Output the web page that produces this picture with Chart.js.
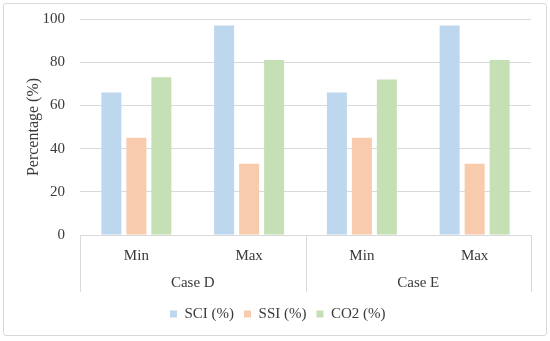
<!DOCTYPE html>
<html><head><meta charset="utf-8">
<script src="https://cdn.jsdelivr.net/npm/chart.js@4.4.1/dist/chart.umd.min.js"></script>
<style>
html,body{margin:0;padding:0;background:#fff;}
#wrap{position:relative;width:550px;height:341px;}
#frame{position:absolute;left:3px;top:3px;width:542px;height:331px;border:1px solid #d9d9d9;border-radius:3px;pointer-events:none;}
canvas{position:absolute;left:0;top:0;}
</style></head><body>
<div id="wrap"><canvas id="c" width="550" height="341"></canvas><div id="frame"></div></div>
<script>
const categories = ['Min', 'Max', 'Min', 'Max'];
const groups = ['Case D', 'Case E'];
const groupSizes = [2, 2];
const seriesNames = ['SCI (%)', 'SSI (%)', 'CO2 (%)'];
const sci = [66, 97, 66, 97];
const ssi = [45, 33, 45, 33];
const co2 = [73, 81, 72, 81];
const yTicks = [0, 20, 40, 60, 80, 100];
const colors = ['#bdd7ee', '#f8cbad', '#c5e0b4'];

const FONT = "'Liberation Serif', 'Times New Roman', serif";
const TEXT = '#3a3a3a';
const GRID = '#d9d9d9';

const groupPlugin = {
  id: 'groupAxis',
  afterLayout(chart) {
    const lg = chart.legend;
    if (lg) { lg.left += 12; lg.right += 12.5; lg.top += 1.5; lg.bottom += 1.5; }
  },
  afterDraw(chart) {
    const ctx = chart.ctx;
    const x = chart.scales.x;
    const area = chart.chartArea;
    const w = x.width / categories.length;
    ctx.save();
    ctx.strokeStyle = GRID;
    ctx.lineWidth = 1;
    ctx.fillStyle = TEXT;
    ctx.font = '15px ' + FONT;
    ctx.textAlign = 'center';
    ctx.textBaseline = 'middle';
    let idx = 0;
    const lineBottom = area.bottom + 57;
    groups.forEach((g, i) => {
      const left = x.getPixelForValue(idx) - w / 2;
      const right = x.getPixelForValue(idx + groupSizes[i] - 1) + w / 2;
      [left, right].forEach(px => {
        const p = Math.round(px) + 0.5;
        ctx.beginPath();
        ctx.moveTo(p, area.bottom);
        ctx.lineTo(p, lineBottom);
        ctx.stroke();
      });
      ctx.fillText(g, (left + right) / 2, area.bottom + 48);
      idx += groupSizes[i];
    });
    ctx.restore();
  }
};

const data = {
  labels: categories,
  datasets: [sci, ssi, co2].map((d, i) => ({
    label: seriesNames[i],
    data: d,
    backgroundColor: colors[i],
    borderWidth: 0,
    categoryPercentage: 0.665,
    barPercentage: 0.8
  }))
};

new Chart(document.getElementById('c'), {
  type: 'bar',
  data,
  options: {
    responsive: false,
    animation: false,
    devicePixelRatio: 1,
    layout: { padding: { top: 19, right: 19, bottom: 11, left: 0 } },
    plugins: {
      legend: {
        position: 'bottom',
        labels: {
          boxWidth: 7, boxHeight: 7, padding: 10,
          color: TEXT,
          font: { family: FONT, size: 15 }
        }
      },
      tooltip: { enabled: false }
    },
    scales: {
      x: {
        grid: { display: false, drawTicks: false },
        border: { display: true, color: GRID, width: 1 },
        ticks: { color: TEXT, font: { family: FONT, size: 15 }, padding: 12, maxRotation: 0 },
        afterFit(s) { s.height = 60; }
      },
      y: {
        min: 0, max: 100,
        afterBuildTicks(s) { s.ticks = yTicks.map(v => ({ value: v })); },
        grid: { color: GRID, drawTicks: false },
        border: { display: false },
        ticks: { color: TEXT, font: { family: FONT, size: 15 }, padding: 15 },
        title: {
          display: true, text: 'Percentage (%)', color: TEXT,
          font: { family: FONT, size: 16 }, padding: { top: 24, bottom: 0 }
        },
        afterFit(s) { s.width = 80; s.paddingTop = 0; s.paddingBottom = 0; }
      }
    }
  },
  plugins: [groupPlugin]
});
</script>
</body></html>
